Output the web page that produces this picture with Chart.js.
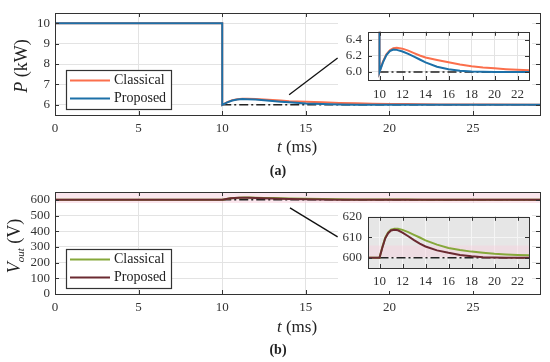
<!DOCTYPE html>
<html>
<head>
<meta charset="utf-8">
<script src="https://cdn.jsdelivr.net/npm/chart.js@4.4.0/dist/chart.umd.min.js"></script>
<style>
  body { margin: 0; background: #fff; }
  #wrap { position: relative; width: 550px; height: 362px; font-family: "Liberation Serif", serif; color: #222; }
  canvas { position: absolute; }
  .lbl { position: absolute; white-space: nowrap; transform: translate(-50%, -50%); }
  .rot { transform: translate(-50%, -50%) rotate(-90deg); }
  .cap { font-weight: bold; font-size: 14px; }
</style>
</head>
<body>
<div id="wrap">
  <canvas id="mainA" width="550" height="160" style="left:0;top:0"></canvas>
  <canvas id="insetA" width="194" height="84" style="left:338px;top:18px"></canvas>
  <canvas id="mainB" width="550" height="160" style="left:0;top:179px"></canvas>
  <canvas id="insetB" width="194" height="88" style="left:338px;top:203px"></canvas>

  <div class="lbl rot" style="left:21px;top:66px;font-size:18px"><i>P</i> (kW)</div>
  <div class="lbl" style="left:297px;top:147px;font-size:17px"><i>t</i> (ms)</div>
  <div class="lbl cap" style="left:278px;top:171px">(a)</div>

  <div class="lbl rot" style="left:15px;top:246px;font-size:18px"><i>V<sub style="font-size:11px">out</sub></i> (V)</div>
  <div class="lbl" style="left:297px;top:327px;font-size:17px"><i>t</i> (ms)</div>
  <div class="lbl cap" style="left:278px;top:350px">(b)</div>
</div>
<script>
// ---- panel (a): power ----
const tA = [0, 10, 10, 10.3, 10.6, 10.9, 11.2, 11.5, 12, 12.5, 13, 13.5, 14, 15, 16, 17, 18, 19, 20, 21, 22, 23, 26, 29];
const classicalA = [10, 10, 6.0, 6.13, 6.22, 6.27, 6.295, 6.30, 6.29, 6.265, 6.235, 6.205, 6.18, 6.15, 6.12, 6.093, 6.07, 6.055, 6.045, 6.035, 6.028, 6.02, 6.01, 6.006];
const proposedA = [10, 10, 6.0, 6.12, 6.21, 6.26, 6.28, 6.275, 6.255, 6.225, 6.19, 6.155, 6.12, 6.065, 6.035, 6.015, 6.005, 6.002, 6.0, 6.0, 6.0, 6.0, 6.0, 6.0];
const refTA = [10, 29];
const refA = [6, 6];
const linkTA = [14.0, 16.9];
const linkA = [6.49, 8.29];

// ---- panel (b): output voltage ----
const tB = [0, 10, 10.25, 10.5, 10.75, 11, 11.3, 11.6, 12, 12.5, 13, 13.5, 14, 15, 16, 17, 18, 19, 20, 21, 22, 23, 26, 29];
const classicalB = [600, 600, 605.2, 609.8, 612.4, 613.7, 614.2, 614.2, 613.6, 612.5, 611.2, 609.9, 608.5, 606.4, 604.8, 603.8, 603.0, 602.4, 601.9, 601.6, 601.4, 601.2, 600.8, 600.6];
const proposedB = [600, 600, 605, 609.5, 612, 613.3, 613.7, 613.4, 612.3, 610.5, 608.6, 606.9, 605.5, 603.6, 602.4, 601.4, 600.7, 600.3, 600.1, 600, 600, 600, 600, 600];
const refTB = [10, 29];
const refB = [600, 600];
const linkTB = [14.05, 16.9];
const linkB = [549, 364];
const bandT = [0, 29];
const bandB = [580, 650];        // shaded band near 600 V (main plot)
const bandInsetB = [600, 606];   // shaded band in the inset

// ---- ticks ----
const xTicksMain = [0, 5, 10, 15, 20, 25];
const yTicksA = [6, 7, 8, 9, 10];
const yTicksB = [0, 100, 200, 300, 400, 500, 600];
const xTicksInset = [10, 12, 14, 16, 18, 20, 22];
const yTicksInsetA = [6.0, 6.2, 6.4];
const yTicksInsetB = [600, 610, 620];

const FONT = { family: 'Liberation Serif', size: 13 };
const pts = (xs, ys) => xs.map((x, i) => ({ x: x, y: ys[i] }));

function line(label, xs, ys, color, extra) {
  return Object.assign({
    label: label, data: pts(xs, ys), borderColor: color, backgroundColor: color,
    borderWidth: 2, pointRadius: 0, tension: 0, fill: false
  }, extra || {});
}

// background, frame, inner tick marks and in-plot legend
const framePlugin = {
  id: 'frame',
  beforeDraw(chart, args, opts) {
    const c = chart.ctx, a = chart.chartArea;
    if (opts.whiteBg) { c.save(); c.fillStyle = '#fff'; c.fillRect(0, 0, chart.width, chart.height); c.restore(); }
    if (opts.areaBg) { c.save(); c.fillStyle = opts.areaBg; c.fillRect(a.left, a.top, a.right - a.left, a.bottom - a.top); c.restore(); }
  },
  afterDatasetsDraw(chart, args, opts) {
    const c = chart.ctx, a = chart.chartArea, L = 4;
    c.save();
    c.strokeStyle = '#333'; c.lineWidth = 1;
    c.beginPath();
    chart.scales.x.ticks.forEach(t => {
      const x = Math.round(chart.scales.x.getPixelForValue(t.value)) + 0.5;
      c.moveTo(x, a.bottom); c.lineTo(x, a.bottom - L);
      c.moveTo(x, a.top); c.lineTo(x, a.top + L);
    });
    chart.scales.y.ticks.forEach(t => {
      const y = Math.round(chart.scales.y.getPixelForValue(t.value)) + 0.5;
      c.moveTo(a.left, y); c.lineTo(a.left + L, y);
      c.moveTo(a.right, y); c.lineTo(a.right - L, y);
    });
    c.stroke();
    c.strokeRect(Math.round(a.left) + 0.5, Math.round(a.top) + 0.5, Math.round(a.right - a.left), Math.round(a.bottom - a.top));
    c.restore();
  },
  afterDraw(chart, args, opts) {
    if (!opts.legend) return;
    const items = chart.data.datasets.filter(d => d.inLegend);
    const c = chart.ctx, a = chart.chartArea;
    const x0 = a.left + 11, w = 105, h = 39, y0 = a.bottom - 6 - h;
    c.save();
    c.fillStyle = '#fff'; c.fillRect(x0, y0, w, h);
    c.strokeStyle = '#333'; c.lineWidth = 1.2;
    c.strokeRect(x0 + 0.5, y0 + 0.5, w, h);
    c.font = '14px "Liberation Serif"'; c.textBaseline = 'middle'; c.fillStyle = '#222';
    items.forEach((d, i) => {
      const y = y0 + 10.5 + i * 18;
      c.strokeStyle = d.borderColor; c.lineWidth = 2.2;
      c.beginPath(); c.moveTo(x0 + 4, y); c.lineTo(x0 + 44, y); c.stroke();
      c.fillText(d.label, x0 + 48, y);
    });
    c.restore();
  }
};

function axis(min, max, ticks, size, isX, pad, fmt, gridColor) {
  return {
    type: 'linear', min: min, max: max,
    afterBuildTicks: s => { s.ticks = ticks.map(v => ({ value: v })); },
    afterFit: s => { if (isX) s.height = size; else s.width = size; },
    grid: { color: gridColor, drawTicks: false, lineWidth: 1 },
    border: { display: false },
    ticks: {
      autoSkip: false, maxRotation: 0, padding: pad, color: '#333', font: FONT,
      callback: fmt || (v => v)
    }
  };
}

function makeChart(id, datasets, scales, padding, frameOpts) {
  return new Chart(document.getElementById(id), {
    type: 'line',
    data: { datasets: datasets },
    options: {
      responsive: false, animation: false,
      layout: { padding: padding },
      scales: scales,
      plugins: { legend: { display: false }, tooltip: { enabled: false }, frame: frameOpts }
    },
    plugins: [framePlugin]
  });
}

const C_A = '#fb6f4c', P_A = '#1c70a8';
const C_B = '#86a83a', P_B = '#6b2a31';
const refStyle = { borderColor: '#222', borderWidth: 1.5, borderDash: [9, 3, 2, 3], order: 2 };
const linkStyle = { borderColor: '#111', borderWidth: 1.3, order: 0 };

// main (a)
makeChart('mainA', [
  line('Classical', tA, classicalA, C_A, { order: 1, inLegend: true }),
  line('Proposed', tA, proposedA, P_A, { order: 0, inLegend: true }),
  line('ref', refTA, refA, '#222', refStyle),
  line('link', linkTA, linkA, '#111', linkStyle)
], {
  x: axis(0, 29, xTicksMain, 45, true, 6, null, '#e3e3e3'),
  y: axis(5.5, 10.5, yTicksA, 55, false, 5, null, '#e3e3e3')
}, { top: 13, right: 10, left: 0, bottom: 0 }, { legend: true });

// inset (a)
makeChart('insetA', [
  line('Proposed', tA, proposedA, P_A, { order: 0 }),
  line('Classical', tA, classicalA, C_A, { order: 1 }),
  line('ref', refTA, refA, '#222', refStyle)
], {
  x: axis(9, 23, xTicksInset, 22, true, 7, null, '#e3e3e3'),
  y: axis(5.9, 6.5, yTicksInsetA, 30, false, 6, v => v.toFixed(1), '#e3e3e3')
}, { top: 4, right: 3, left: 0, bottom: 0 }, { whiteBg: true });

// main (b)
makeChart('mainB', [
  line('Classical', tB, classicalB, C_B, { order: 1, inLegend: true }),
  line('Proposed', tB, proposedB, P_B, { order: 0, inLegend: true }),
  line('ref', refTB, refB, '#222', refStyle),
  line('link', linkTB, linkB, '#111', linkStyle),
  line('band', bandT, [bandB[1], bandB[1]], 'rgba(0,0,0,0)', { borderWidth: 0, fill: { value: bandB[0] }, backgroundColor: 'rgba(248,205,220,0.5)', order: 5 })
], {
  x: axis(0, 29, xTicksMain, 45, true, 6, null, '#e3e3e3'),
  y: axis(0, 650, yTicksB, 55, false, 5, null, '#e3e3e3')
}, { top: 13, right: 10, left: 0, bottom: 0 }, { legend: true });

// inset (b)
makeChart('insetB', [
  line('Proposed', tB, proposedB, P_B, { order: 0 }),
  line('Classical', tB, classicalB, C_B, { order: 1 }),
  line('ref', refTB, refB, '#222', refStyle),
  line('band', [9, 23], [bandInsetB[1], bandInsetB[1]], 'rgba(0,0,0,0)', { borderWidth: 0, fill: { value: bandInsetB[0] }, backgroundColor: 'rgba(250,205,220,0.4)', order: 5 })
], {
  x: axis(9, 23, xTicksInset, 23, true, 6, null, '#f5f5f5'),
  y: axis(595, 620, yTicksInsetB, 30, false, 6, null, '#f5f5f5')
}, { top: 6, right: 3, left: 0, bottom: 0 }, { whiteBg: true, areaBg: '#e6e6e6' });
</script>
</body>
</html>
